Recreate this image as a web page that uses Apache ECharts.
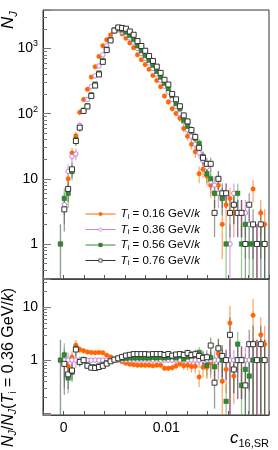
<!DOCTYPE html>
<html><head><meta charset="utf-8">
<script src="https://cdn.jsdelivr.net/npm/echarts@6/dist/echarts.min.js"></script>
<style>html,body{margin:0;padding:0;background:#fff}#c{width:278px;height:450px}</style>
</head><body><div id="c"></div>
<script>
// ---- data ----
const binCenters = [-0.0003,0.000075,0.00045,0.000825,0.0012,0.001575,0.00195,0.002325,0.0027,0.003075,
  0.00345,0.003825,0.0042,0.004575,0.00495,0.005325,0.0057,0.006075,0.00645,0.006825,
  0.0072,0.007575,0.00795,0.008325,0.0087,0.009075,0.00945,0.009825,0.0102,0.010575,
  0.01095,0.011325,0.0117,0.012075,0.01245,0.012825,0.0132,0.013575,0.01395,0.014325,
  0.0147,0.015075,0.01545,0.015825,0.0162,0.016575,0.01695,0.017325,0.0177,0.018075,
  0.01845,0.018825,0.0192,0.019575];
const legendTemps = ['0.16','0.36','0.56','0.76'];
const countsT016 = [0,0,10,25,46,105,165,236,364,524,756,1104,1364,1610,1943,1950,1674,1436,1218,1025,
  800,672,568,480,386,324,260,186,151,119,101,85,59,45,34,26,12,14,11,8,6,8,2,4,5,3,0,3,0,0,7,1,3,2];
const countsT036 = [1,4,13,22,24,66,110,165,260,380,540,800,1100,1400,1850,1950,1800,1650,1450,1250,
  1000,840,710,600,495,405,325,265,215,165,130,100,75,56,45,34,25,19,15,9,8,6,5,6,1,6,3,3,3,2,1,1,1,1];
const countsT056 = [1,5,6,13,40,61,113,132,195,285,421,656,979,1358,1906,2048,1926,1782,1595,1375,
  1100,924,781,660,554,446,364,292,241,190,143,120,79,64,54,42,35,22,12,10,6,10,5,1,0,4,6,1,2,1,1,0,1,1];
const countsT076 = [0,3.4,7,14,38,61,110,129,187,270,400,624,946,1330,1887,2106,2070,2013,1827,1625,
  1300,1092,923,768,644,527,423,331,280,201,166,130,94,76,56,44,30,21,17,17,3,10,6,6,3,4,3,3,1,4,2,1,2,1];
const xTickLabels = [0, 0.01];
const topRange = [0.29, 3900];
const ratioRange = [0.092, 34];

// ---- styling ----
const FONT = '"Liberation Sans", Arial, Helvetica, sans-serif';
const defs = [
  {counts: countsT016, line:'#ff6600', err:'rgba(255,110,20,0.6)',  symbol:'circle', size:4.5, fill:'#ff6600', border:'#ff6600'},
  {counts: countsT036, line:'#c97fd8', err:'rgba(200,120,215,0.65)', symbol:'circle', size:4.5, fill:'#ffffff', border:'#c77dd6'},
  {counts: countsT056, line:'#2f8f2f', err:'rgba(70,160,70,0.55)',  symbol:'rect',   size:4.5, fill:'#2e8b2e', border:'#226e22'},
  {counts: countsT076, line:'#333333', err:'rgba(60,60,60,0.5)',    symbol:'rect',   size:5, fill:'#ffffff', border:'#333333'}
];
const ref = countsT036;

function errRender(color, yMin, yMax) {
  return function (params, api) {
    const x = api.value(0), lo = api.value(1), hi = api.value(2);
    const p1 = api.coord([x, Math.max(lo, yMin)]);
    const p2 = api.coord([x, Math.min(hi, yMax)]);
    return {type:'line', shape:{x1:p1[0], y1:p1[1], x2:p2[0], y2:p2[1]},
            style:{stroke: color, lineWidth: 1.3}};
  };
}

const series = [];
defs.forEach((d, si) => {
  const name = legendTemps[si];
  const pts = [], errs = [], rpts = [], rerrs = [];
  d.counts.forEach((n, k) => {
    const x = binCenters[k];
    if (n > 0) {
      const e = Math.sqrt(n);
      pts.push([x, n]);
      errs.push([x, n - e, n + e]);
      const p = ref[k];
      if (p > 0) {
        const r = n / p;
        const re = r * Math.sqrt(1 / n + 1 / p);
        rpts.push([x, r]);
        rerrs.push([x, r - re, r + re]);
      }
    }
  });
  const itemStyle = {color:d.fill, borderColor:d.border, borderWidth: d.fill==='#ffffff'?1:0.5};
  series.push({type:'custom', name:'err'+si, xAxisIndex:0, yAxisIndex:0, data: errs, clip:true, z:2+si*0.1,
    renderItem: errRender(d.err, topRange[0], topRange[1]), silent:true});
  series.push({type:'line', name: name, xAxisIndex:0, yAxisIndex:0, data: pts, z:3+si*0.1,
    symbol: d.symbol, symbolSize: d.size, showSymbol:true, showAllSymbol:true,
    lineStyle:{color:d.line, width:1, opacity:0}, itemStyle: itemStyle,
    emphasis:{disabled:true}, silent:true});
  series.push({type:'custom', name:'rerr'+si, xAxisIndex:1, yAxisIndex:1, data: rerrs, clip:true, z:2+si*0.1,
    renderItem: errRender(d.err, ratioRange[0], ratioRange[1]), silent:true});
  series.push({type:'line', name:'ratio'+si, xAxisIndex:1, yAxisIndex:1, data: rpts, z:3+si*0.1,
    symbol: d.symbol, symbolSize: d.size, showSymbol:true, showAllSymbol:true,
    lineStyle:{color:d.line, width:1, opacity:0}, itemStyle: itemStyle,
    emphasis:{disabled:true}, silent:true});
});

function powLabel(v, minShown) {
  const l = Math.log10(v), e = Math.round(l);
  if (Math.abs(l - e) > 1e-6 || v < minShown) return '';
  if (e === 0) return '1';
  if (e === 1) return '10';
  return '10{s|' + e + '}';
}
const labelRich = {s:{fontSize:9, fontFamily:FONT, lineHeight:8, verticalAlign:'top', color:'#000'}};

const xCommon = {type:'value', min:-0.002, max:0.02, interval:0.002,
  axisLine:{show:true, lineStyle:{color:'#444', width:1}},
  axisTick:{show:true, inside:true, length:4, lineStyle:{color:'#555'}},
  splitLine:{show:false}};
const yCommon = {type:'log', logBase:10,
  axisLine:{show:true, onZero:false, lineStyle:{color:'#333', width:1}},
  axisTick:{show:true, inside:true, length:8, lineStyle:{color:'#777'}},
  minorTick:{show:true, splitNumber:9, length:4, lineStyle:{color:'#777'}},
  splitLine:{show:false}, minorSplitLine:{show:false}};

const option = {
  animation:false,
  backgroundColor:'#fff',
  grid:[
    {left:43, right:9, top:10, height:269, show:true, borderColor:'#333', borderWidth:1, backgroundColor:'transparent'},
    {left:43, right:9, top:279, height:136, show:true, borderColor:'#333', borderWidth:1, backgroundColor:'transparent'}
  ],
  xAxis:[
    Object.assign({}, xCommon, {gridIndex:0, axisLabel:{show:false}}),
    Object.assign({}, xCommon, {gridIndex:1, axisLabel:{show:true, margin:6, fontFamily:FONT, fontSize:14, color:'#000',
      formatter: v => { for (const t of xTickLabels) if (Math.abs(v - t) < 1e-9) return String(t); return ''; }}})
  ],
  yAxis:[
    Object.assign({}, yCommon, {gridIndex:0, min:topRange[0], max:topRange[1],
      axisLabel:{show:true, margin:5, fontFamily:FONT, fontSize:14, color:'#000', lineHeight:18, rich:labelRich,
        formatter: v => powLabel(v, 1)}}),
    Object.assign({}, yCommon, {gridIndex:1, min:ratioRange[0], max:ratioRange[1],
      axisLabel:{show:true, margin:5, fontFamily:FONT, fontSize:14, color:'#000', lineHeight:18, rich:labelRich,
        formatter: v => powLabel(v, 1)}})
  ],
  legend:{
    data: legendTemps, orient:'vertical', left:80, top:203, itemWidth:30, itemHeight:4, itemGap:3,
    selectedMode:false,
    lineStyle:{opacity:1, width:1},
    itemStyle:{borderWidth:0.8},
    textStyle:{fontFamily:FONT, fontSize:11.5, color:'#000',
      rich:{t:{fontFamily:FONT, fontStyle:'italic', fontSize:11.5, lineHeight:13, color:'#000'},
            s:{fontFamily:FONT, fontSize:8, lineHeight:7, verticalAlign:'bottom', color:'#000'},
            n:{fontFamily:FONT, fontSize:11.5, lineHeight:13, color:'#000'}}},
    formatter: n => '{t|T}{s|i}{n| = ' + n + ' GeV/}{t|k}'
  },
  graphic:[
    {type:'text', x:19, y:29, rotation:Math.PI/2,
      style:{text:'{i|N}{s|J}', align:'left', verticalAlign:'bottom', fill:'#000',
        rich:{i:{fontFamily:FONT, fontStyle:'italic', fontSize:17, lineHeight:19, verticalAlign:'top'},
              s:{fontFamily:FONT, fontStyle:'italic', fontSize:11, lineHeight:10, verticalAlign:'bottom'}}}},
    {type:'text', x:19, y:447, rotation:Math.PI/2,
      style:{text:'{i|N}{s|J}{n|/}{i|N}{s|J}{n|(}{i|T}{r|i}{n| = 0.36 GeV/}{i|k}{n|)}', align:'left', verticalAlign:'bottom', fill:'#000',
        rich:{i:{fontFamily:FONT, fontStyle:'italic', fontSize:16, lineHeight:18, verticalAlign:'top'},
              n:{fontFamily:FONT, fontSize:16, lineHeight:18, verticalAlign:'top'},
              r:{fontFamily:FONT, fontSize:10.5, lineHeight:10, verticalAlign:'bottom'},
              s:{fontFamily:FONT, fontStyle:'italic', fontSize:10.5, lineHeight:10, verticalAlign:'bottom'}}}},
    {type:'text', right:9, top:430,
      style:{text:'{i|c}{s|16,SR}', fill:'#000',
        rich:{i:{fontFamily:FONT, fontStyle:'italic', fontSize:17, lineHeight:19, verticalAlign:'top'},
              s:{fontFamily:FONT, fontSize:11, lineHeight:10, verticalAlign:'bottom'}}}}
  ],
  series: series
};
const chart = echarts.init(document.getElementById('c'));
chart.setOption(option);
</script>
</body></html>
